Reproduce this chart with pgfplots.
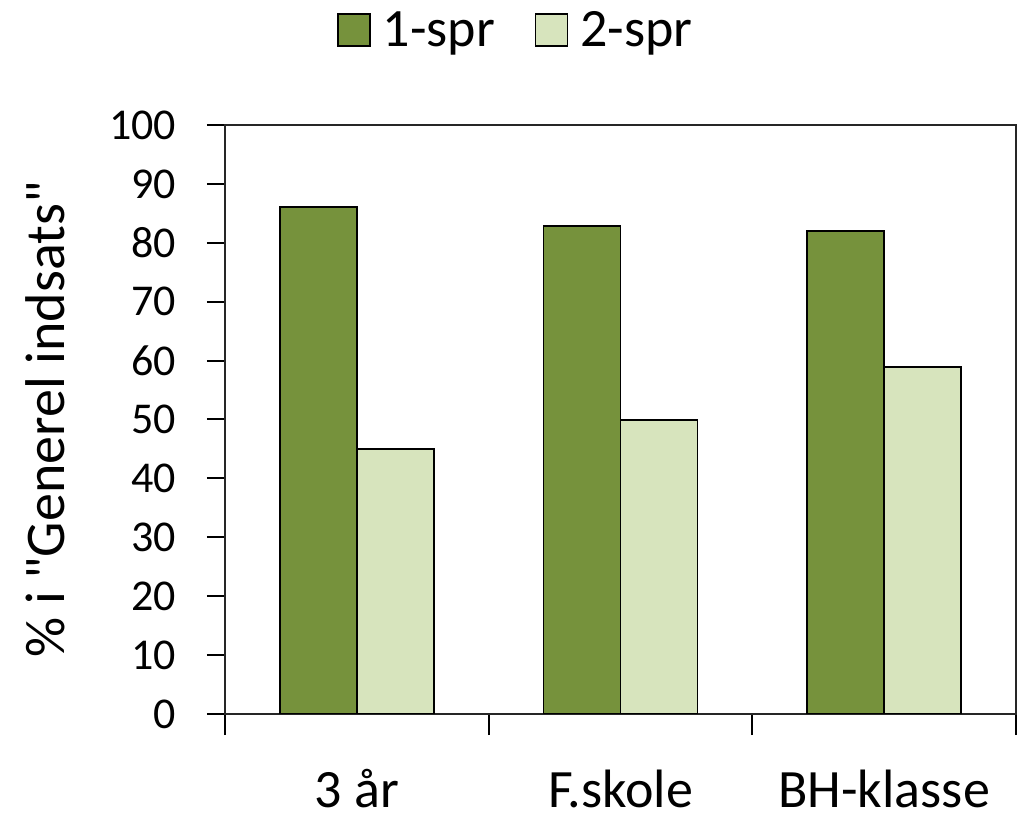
\documentclass[border=0pt]{standalone}
\usepackage{fontspec}
\setmainfont{Carlito}[Ligatures=TeXOff]
\usepackage{pgfplots}
\pgfplotsset{compat=1.18}
\definecolor{darkgr}{RGB}{118,146,60}
\definecolor{lightgr}{RGB}{215,228,189}

\begin{document}
\begin{tikzpicture}
\useasboundingbox (-112.5pt,-54.5pt) rectangle (398pt,357pt);
\begin{axis}[
  at={(0,0)}, anchor=south west,
  scale only axis,
  width=395.5pt, height=294.5pt,
  ybar=0pt, bar width=38.5pt,
  xmin=-0.5, xmax=2.5,
  ymin=0, ymax=100,
  xtick={0,1,2},
  xticklabels={3 år, F.skole, BH-klasse},
  minor xtick={-0.5,0.5,1.5,2.5},
  ytick={0,10,...,100},
  tick pos=left, tick align=outside,
  major tick length=9pt, minor tick length=10.5pt,
  major x tick style={draw=none},
  every tick/.style={black, line width=1pt},
  axis line style={line width=1pt, black!85},
  font=\fontsize{22}{26}\selectfont,
  /pgf/number format/assume math mode=true,
  yticklabel style={xshift=-12pt},
  xticklabel style={font=\fontsize{27}{30}\selectfont, anchor=base, inner sep=0pt, yshift=-37.5pt},
  ylabel={\% i "Generel indsats"},
  every axis y label/.style={at={(axis description cs:0,0.5)}, xshift=-90pt, rotate=90,
    anchor=center, font=\fontsize{28}{32}\selectfont},
  legend columns=-1,
  legend style={draw=none, fill=none, at={(rel axis cs:0.369,1.161)}, anchor=center,
    font=\fontsize{27}{30}\selectfont,
    /tikz/every odd column/.append style={column sep=4pt},
    /tikz/every even column/.append style={column sep=18pt}},
  every axis plot/.append style={legend image code/.code={
    \draw[#1, draw=black, line width=0.8pt] (0pt,-8pt) rectangle (16pt,8pt);}},
]
\addplot[fill=darkgr, draw=black, line width=0.8pt] coordinates {(0,86.1) (1,82.9) (2,82.0)};
\addplot[fill=lightgr, draw=black, line width=0.8pt] coordinates {(0,45.0) (1,49.9) (2,58.9)};
\legend{1-spr, 2-spr}
\end{axis}
\end{tikzpicture}
\end{document}
